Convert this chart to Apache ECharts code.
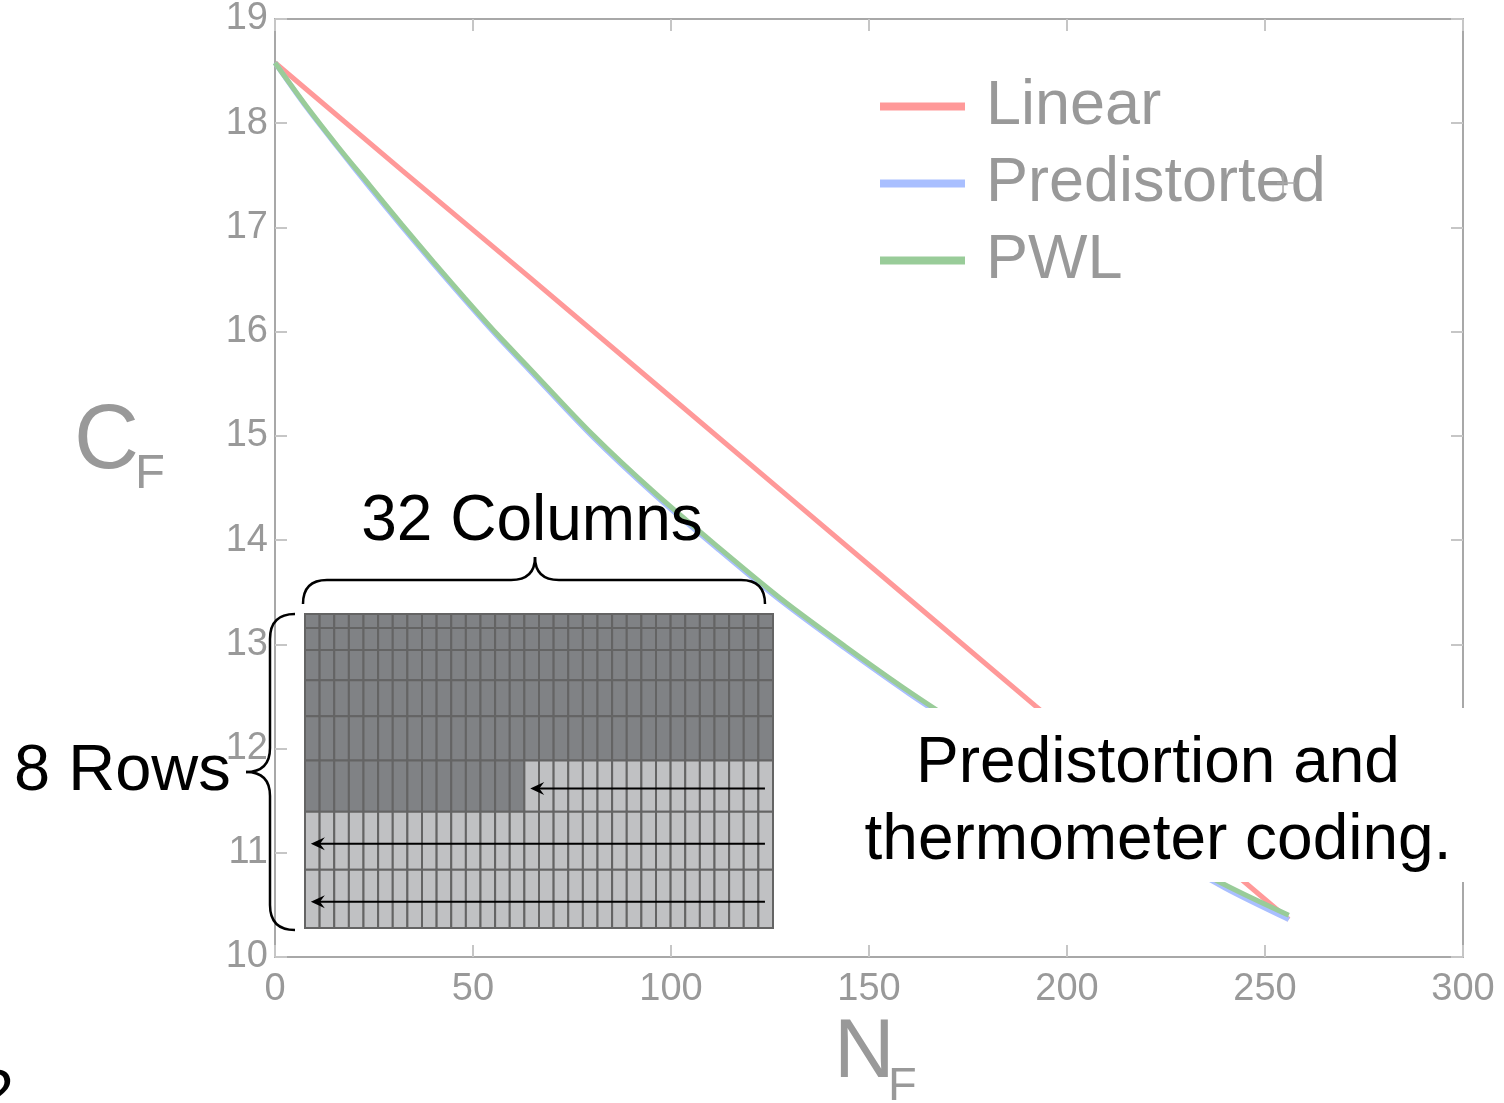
<!DOCTYPE html>
<html>
<head>
<meta charset="utf-8">
<script src="https://cdn.jsdelivr.net/npm/echarts@6/dist/echarts.min.js"></script>
<style>
html,body{margin:0;padding:0;background:#fff;}
#chart{width:1504px;height:1103px;}
</style>
</head>
<body>
<div id="chart"></div>
<script>
// ---- data ----
const seriesNames = ['Linear', 'Predistorted', 'PWL'];
const linearCodes = [0, 32, 64, 96, 128, 160, 192, 224, 256];
const linearValues = [18.58, 17.55, 16.53, 15.50, 14.47, 13.44, 12.41, 11.39, 10.36];
const curveCodes = [0, 8, 16, 24, 32, 40, 48, 56, 64, 80, 96, 112, 128, 144, 160, 176, 192, 208, 224, 240, 256];
const predistortedValues = [18.58, 18.15, 17.76, 17.38, 17.01, 16.65, 16.30, 15.96, 15.64, 15.00, 14.43, 13.91, 13.41, 12.96, 12.53, 12.13, 11.74, 11.37, 11.01, 10.66, 10.36];
const pwlValues = [18.58, 18.16, 17.77, 17.40, 17.03, 16.67, 16.32, 15.98, 15.66, 15.02, 14.45, 13.93, 13.43, 12.98, 12.55, 12.15, 11.76, 11.39, 11.03, 10.69, 10.40];
const xTicks = [0, 50, 100, 150, 200, 250, 300];
const yTicks = [10, 11, 12, 13, 14, 15, 16, 17, 18, 19];

// inset: 32 x 8 thermometer array
const insetColumns = 32;
const rowHeights = [14, 22, 30, 36, 44, 51, 58, 58];
const darkCellsPerRow = [32, 32, 32, 32, 32, 15, 0, 0];
const arrowRows = [5, 6, 7];
const arrowFrom = [31.45, 31.45, 31.45];
const arrowTo = [15.4, 0.4, 0.4];

// ---- styles ----
const FONT = '"Liberation Sans", Arial, Helvetica, sans-serif';
const frameColor = '#a8a8a8';
const tickColor = '#c6c6c6';
const labelColor = '#999999';
const colors = ['#ff9999', '#a9bfff', '#99cc99'];

const rowStarts = [];
let acc = 0;
rowHeights.forEach(h => { rowStarts.push(acc); acc += h; });
const totalRows = acc;

const cells = [];
for (let r = 0; r < rowHeights.length; r++) {
  for (let c = 0; c < insetColumns; c++) {
    cells.push([c, r, c < darkCellsPerRow[r] ? 1 : 0]);
  }
}
const arrows = arrowRows.map((r, i) => [r, arrowFrom[i], arrowTo[i]]);

// brace pieces (decoration): lines and quadratic curves
function braceStyle() { return {stroke: '#000', lineWidth: 2.5, fill: null}; }
function seg(x1, y1, x2, y2) { return {type: 'line', z: 101, shape: {x1, y1, x2, y2}, style: braceStyle()}; }
function quad(x1, y1, cx, cy, x2, y2) { return {type: 'bezierCurve', z: 101, shape: {x1, y1, cpx1: cx, cpy1: cy, x2, y2}, style: braceStyle()}; }

const chart = echarts.init(document.getElementById('chart'), null, {renderer: 'canvas'});

const mainAxisCommon = {
  type: 'value',
  gridIndex: 0,
  axisLine: {show: true, onZero: false, lineStyle: {color: frameColor, width: 2}},
  axisTick: {show: true, inside: true, length: 12, lineStyle: {color: tickColor, width: 2}},
  splitLine: {show: false}
};

const option = {
  animation: false,
  backgroundColor: '#ffffff',
  grid: [
    {left: 275, top: 17.5, right: 41, bottom: 146},
    {left: 305, top: 614, width: 468, height: 314}
  ],
  legend: {
    data: seriesNames,
    orient: 'vertical',
    left: 880,
    top: 71,
    padding: 0,
    itemWidth: 85,
    itemHeight: 8,
    itemGap: 6,
    icon: 'rect',
    selectedMode: false,
    textStyle: {fontSize: 63, color: labelColor, fontFamily: FONT, lineHeight: 63, padding: [8, 0, 0, 16]}
  },
  xAxis: [
    Object.assign({}, mainAxisCommon, {
      position: 'bottom', min: xTicks[0], max: xTicks[xTicks.length - 1], interval: 50,
      axisLabel: {show: true, fontSize: 38, color: labelColor, fontFamily: FONT, margin: 14}
    }),
    Object.assign({}, mainAxisCommon, {
      position: 'top', min: xTicks[0], max: xTicks[xTicks.length - 1], interval: 50,
      axisLabel: {show: false}
    }),
    {type: 'value', gridIndex: 1, min: 0, max: insetColumns, show: false}
  ],
  yAxis: [
    Object.assign({}, mainAxisCommon, {
      position: 'left', min: yTicks[0], max: yTicks[yTicks.length - 1], interval: 1,
      axisLabel: {show: true, fontSize: 38, color: labelColor, fontFamily: FONT, margin: 7}
    }),
    Object.assign({}, mainAxisCommon, {
      position: 'right', min: yTicks[0], max: yTicks[yTicks.length - 1], interval: 1,
      axisLabel: {show: false}
    }),
    {type: 'value', gridIndex: 1, min: 0, max: totalRows, inverse: true, show: false}
  ],
  series: [
    {
      name: seriesNames[0], type: 'line', xAxisIndex: 0, yAxisIndex: 0,
      data: linearCodes.map((n, i) => [n, linearValues[i]]),
      showSymbol: false, symbol: 'none', smooth: false,
      lineStyle: {color: colors[0], width: 5}, itemStyle: {color: colors[0]}, z: 2
    },
    {
      name: seriesNames[1], type: 'line', xAxisIndex: 0, yAxisIndex: 0,
      data: curveCodes.map((n, i) => [n, predistortedValues[i]]),
      showSymbol: false, symbol: 'none', smooth: 0.3,
      lineStyle: {color: colors[1], width: 5}, itemStyle: {color: colors[1]}, z: 3
    },
    {
      name: seriesNames[2], type: 'line', xAxisIndex: 0, yAxisIndex: 0,
      data: curveCodes.map((n, i) => [n, pwlValues[i]]),
      showSymbol: false, symbol: 'none', smooth: 0.3,
      lineStyle: {color: colors[2], width: 5}, itemStyle: {color: colors[2]}, z: 4
    },
    {
      type: 'custom', xAxisIndex: 2, yAxisIndex: 2, z: 10,
      data: cells,
      silent: true,
      renderItem: function (params, api) {
        const c = api.value(0), r = api.value(1), d = api.value(2);
        const p0 = api.coord([c, rowStarts[r]]);
        const p1 = api.coord([c + 1, rowStarts[r] + rowHeights[r]]);
        return {
          type: 'rect',
          shape: {x: p0[0], y: p0[1], width: p1[0] - p0[0], height: p1[1] - p0[1]},
          style: {fill: d ? '#808285' : '#c0c1c3', stroke: '#646464', lineWidth: 2}
        };
      }
    },
    {
      type: 'custom', xAxisIndex: 2, yAxisIndex: 2, z: 11,
      data: arrows,
      silent: true,
      renderItem: function (params, api) {
        const r = api.value(0), from = api.value(1), to = api.value(2);
        const yv = rowStarts[r] + rowHeights[r] * 0.55;
        const a = api.coord([from, yv]);
        const b = api.coord([to, yv]);
        const L = 14, W = 6.5;
        return {
          type: 'group',
          children: [
            {type: 'line', shape: {x1: a[0], y1: a[1], x2: b[0] + 6, y2: b[1]},
             style: {stroke: '#000', lineWidth: 2}},
            {type: 'polygon', shape: {points: [[b[0], b[1]], [b[0] + L, b[1] - W], [b[0] + L * 0.65, b[1]], [b[0] + L, b[1] + W]]},
             style: {fill: '#000'}}
          ]
        };
      }
    }
  ],
  graphic: [
    // axis titles
    {type: 'text', z: 50, style: {text: 'C', x: 74, y: 443, textAlign: 'left', textVerticalAlign: 'middle', fontSize: 90, fontFamily: FONT, fill: labelColor}},
    {type: 'text', z: 50, style: {text: 'F', x: 135, y: 474, textAlign: 'left', textVerticalAlign: 'middle', fontSize: 49, fontFamily: FONT, fill: labelColor}},
    {type: 'text', z: 50, style: {text: 'N', x: 834, y: 1054, textAlign: 'left', textVerticalAlign: 'middle', fontSize: 84, fontFamily: FONT, fill: labelColor}},
    {type: 'text', z: 50, style: {text: 'F', x: 888, y: 1087, textAlign: 'left', textVerticalAlign: 'middle', fontSize: 47, fontFamily: FONT, fill: labelColor}},
    // cursor artifact in legend
    {type: 'line', z: 60, shape: {x1: 1277, y1: 183, x2: 1295, y2: 183}, style: {stroke: '#aaaaaa', lineWidth: 1.5}},
    {type: 'line', z: 60, shape: {x1: 1283, y1: 171, x2: 1283, y2: 194}, style: {stroke: '#aaaaaa', lineWidth: 1.5}},
    // annotation box
    {type: 'rect', z: 100, shape: {x: 855, y: 708, width: 640, height: 174}, style: {fill: '#ffffff'}},
    {type: 'text', z: 101, style: {text: 'Predistortion and', x: 1158, y: 764, textAlign: 'center', textVerticalAlign: 'middle', fontSize: 64, fontFamily: FONT, fill: '#000'}},
    {type: 'text', z: 101, style: {text: 'thermometer coding.', x: 1158, y: 841, textAlign: 'center', textVerticalAlign: 'middle', fontSize: 64, fontFamily: FONT, fill: '#000'}},
    // inset labels
    {type: 'text', z: 101, style: {text: '32 Columns', x: 532, y: 522, textAlign: 'center', textVerticalAlign: 'middle', fontSize: 64, fontFamily: FONT, fill: '#000'}},
    {type: 'text', z: 101, style: {text: '8 Rows', x: 14, y: 772, textAlign: 'left', textVerticalAlign: 'middle', fontSize: 65, fontFamily: FONT, fill: '#000'}},
    // top brace
    quad(303, 604, 303, 580, 327, 580), seg(327, 580, 511, 580), quad(511, 580, 535, 580, 535, 557),
    quad(535, 557, 535, 580, 559, 580), seg(559, 580, 741, 580), quad(741, 580, 765, 580, 765, 604),
    // left brace
    quad(295, 614, 270, 614, 270, 639), seg(270, 639, 270, 748), quad(270, 748, 270, 772, 246, 772),
    quad(246, 772, 270, 772, 270, 796), seg(270, 796, 270, 905), quad(270, 905, 270, 930, 295, 930),
    // cut-off glyph at bottom-left
    {type: 'text', z: 101, style: {text: '2', x: -21, y: 1096, textAlign: 'left', textVerticalAlign: 'middle', fontSize: 63, fontFamily: FONT, fill: '#000'}}
  ]
};

chart.setOption(option);
</script>
</body>
</html>
